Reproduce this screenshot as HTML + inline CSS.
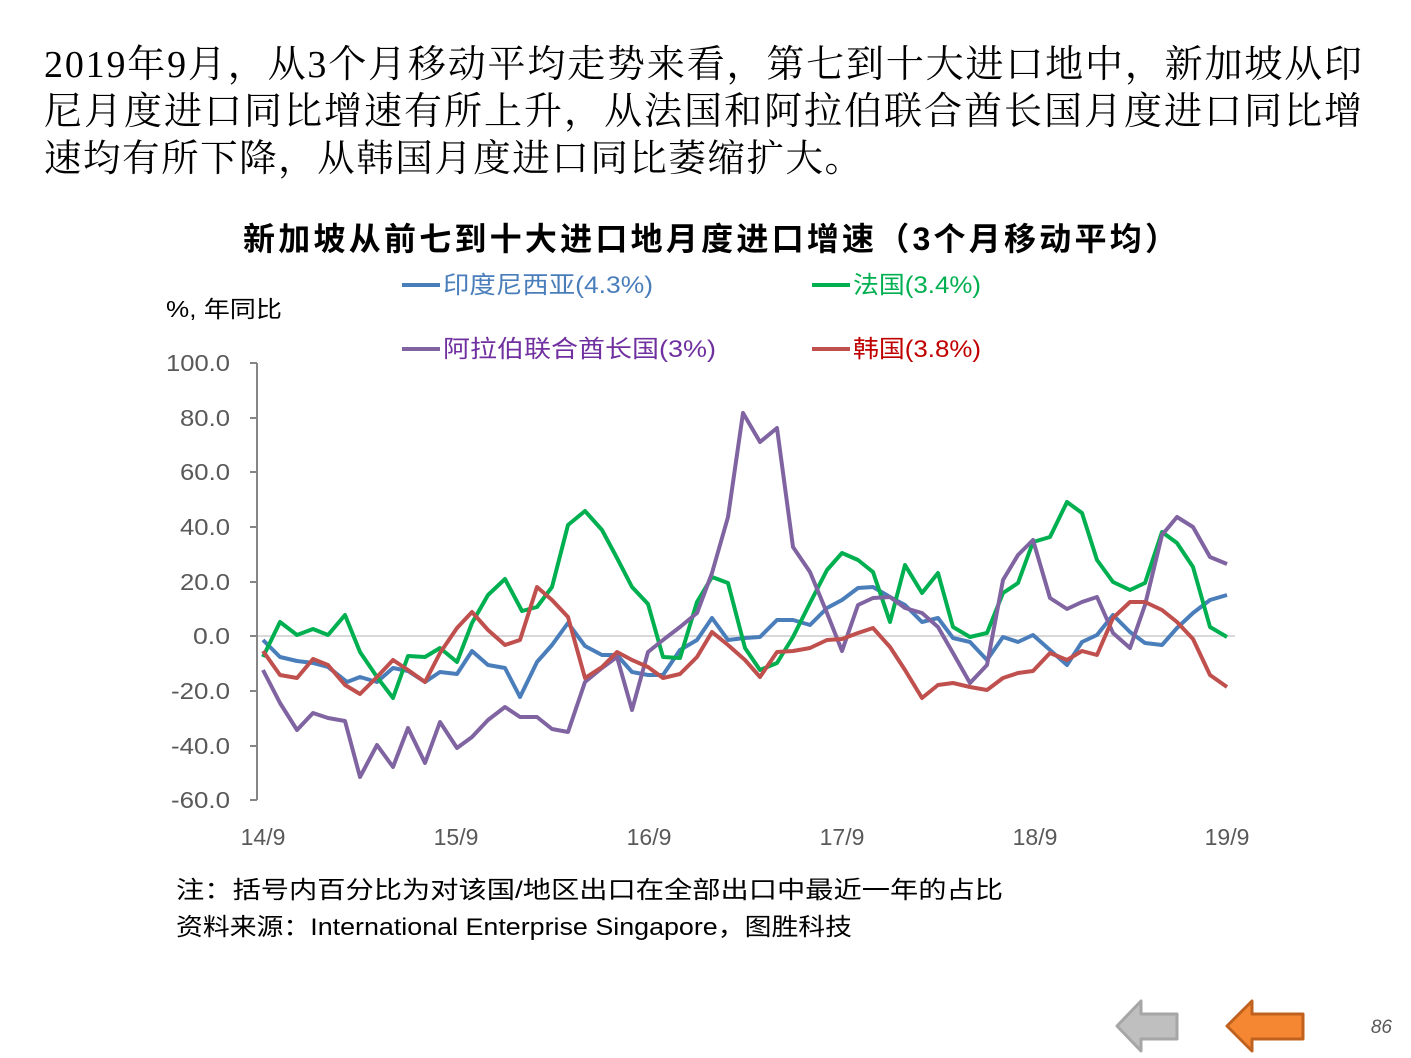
<!DOCTYPE html>
<html><head><meta charset="utf-8"><style>
body{margin:0;background:#fff;width:1411px;height:1058px;overflow:hidden}
svg{display:block}
.s{font-family:"Liberation Sans","Noto Sans CJK SC",sans-serif}
</style></head><body>
<svg width="1411" height="1058" xmlns="http://www.w3.org/2000/svg">
<g font-family="Liberation Serif,'Noto Serif CJK SC',serif" font-size="38" fill="#000">
<text x="44" y="77" textLength="1318" lengthAdjust="spacing">2019年9月，从3个月移动平均走势来看，第七到十大进口地中，新加坡从印</text>
<text x="44" y="124" textLength="1318" lengthAdjust="spacing">尼月度进口同比增速有所上升，从法国和阿拉伯联合酋长国月度进口同比增</text>
<text x="44" y="171" font-size="37.5" textLength="818" lengthAdjust="spacing">速均有所下降，从韩国月度进口同比萎缩扩大。</text>
</g>
<text class="s" x="710" y="250" text-anchor="middle" font-size="32" font-weight="bold" textLength="934" lengthAdjust="spacing">新加坡从前七到十大进口地月度进口增速（3个月移动平均）</text>
<g class="s" font-size="24">
<line x1="402" y1="285" x2="440" y2="285" stroke="#4a7ebb" stroke-width="4"/>
<text x="443" y="293" fill="#4a7ebb" textLength="210" lengthAdjust="spacingAndGlyphs">印度尼西亚(4.3%)</text>
<line x1="812" y1="285" x2="850" y2="285" stroke="#00b050" stroke-width="4"/>
<text x="853" y="293" fill="#00b050" textLength="128" lengthAdjust="spacingAndGlyphs">法国(3.4%)</text>
<line x1="402" y1="349" x2="440" y2="349" stroke="#8064a2" stroke-width="4"/>
<text x="443" y="357" fill="#7030a0" textLength="273" lengthAdjust="spacingAndGlyphs">阿拉伯联合酋长国(3%)</text>
<line x1="812" y1="349" x2="850" y2="349" stroke="#c0504d" stroke-width="4"/>
<text x="853" y="357" fill="#c00000" textLength="128" lengthAdjust="spacingAndGlyphs">韩国(3.8%)</text>
</g>
<text class="s" x="166" y="317" font-size="23" fill="#000" textLength="116" lengthAdjust="spacingAndGlyphs">%, 年同比</text>
<g class="s" font-size="23" fill="#595959" text-anchor="end">
<text x="230" y="371" textLength="64" lengthAdjust="spacingAndGlyphs">100.0</text><text x="230" y="426" textLength="50" lengthAdjust="spacingAndGlyphs">80.0</text><text x="230" y="480" textLength="50" lengthAdjust="spacingAndGlyphs">60.0</text>
<text x="230" y="535" textLength="50" lengthAdjust="spacingAndGlyphs">40.0</text><text x="230" y="590" textLength="50" lengthAdjust="spacingAndGlyphs">20.0</text><text x="230" y="644" textLength="37" lengthAdjust="spacingAndGlyphs">0.0</text>
<text x="230" y="699" textLength="59" lengthAdjust="spacingAndGlyphs">-20.0</text><text x="230" y="754" textLength="59" lengthAdjust="spacingAndGlyphs">-40.0</text><text x="230" y="808" textLength="59" lengthAdjust="spacingAndGlyphs">-60.0</text>
</g>
<g class="s" font-size="23" fill="#595959" text-anchor="middle">
<text x="263" y="845">14/9</text><text x="456" y="845">15/9</text><text x="649" y="845">16/9</text>
<text x="842" y="845">17/9</text><text x="1035" y="845">18/9</text><text x="1227" y="845">19/9</text>
</g>
<line x1="257" y1="636" x2="1235" y2="636" stroke="#d9d9d9" stroke-width="2"/>
<g stroke="#868686" stroke-width="2">
<line x1="257" y1="363" x2="257" y2="800"/>
<line x1="250" y1="363" x2="257" y2="363"/><line x1="250" y1="418" x2="257" y2="418"/>
<line x1="250" y1="472" x2="257" y2="472"/><line x1="250" y1="527" x2="257" y2="527"/>
<line x1="250" y1="582" x2="257" y2="582"/><line x1="250" y1="636" x2="257" y2="636"/>
<line x1="250" y1="691" x2="257" y2="691"/><line x1="250" y1="746" x2="257" y2="746"/>
<line x1="250" y1="800" x2="257" y2="800"/>
</g>
<g fill="none" stroke-width="4" stroke-linejoin="round">
<polyline stroke="#4a7ebb" points="263,640 280,657 297,661 313,663 328,667 347,682 360,677 377,682 393,668 408,671 425,682 440,672 457,674 472,651 488,665 505,668 520,697 537,662 552,645 568,623 585,646 602,655 617,655 632,672 648,675 663,675 680,650 697,640 712,618 728,640 745,638 760,637 777,620 793,620 810,625 827,608 842,600 858,588 873,587 890,597 905,605 922,622 938,618 953,638 970,642 987,660 1003,637 1018,642 1033,635 1050,650 1067,665 1082,642 1097,635 1113,615 1130,632 1145,643 1162,645 1177,628 1193,613 1210,600 1227,595"/>
<polyline stroke="#00b050" points="263,657 280,622 297,635 313,629 328,635 345,615 360,652 377,677 393,698 408,656 425,657 440,648 457,662 472,623 488,595 505,579 522,611 537,607 552,587 568,525 585,511 602,530 617,558 632,587 648,604 663,657 680,658 697,602 712,577 728,583 745,648 760,670 777,663 793,637 810,603 827,570 842,553 858,560 873,572 890,622 905,565 922,593 938,573 953,627 970,637 987,633 1003,593 1018,583 1033,542 1050,537 1067,502 1082,513 1097,560 1113,582 1130,590 1145,583 1162,532 1177,543 1193,567 1210,627 1227,637"/>
<polyline stroke="#8064a2" points="263,670 280,703 297,730 313,713 328,718 345,721 360,777 377,745 393,767 408,728 425,763 440,722 457,748 472,737 488,720 505,707 520,717 537,717 552,729 568,732 585,682 602,668 617,657 632,710 648,652 663,640 680,627 697,613 712,573 728,517 743,413 760,442 777,428 793,547 810,572 827,613 842,651 858,605 873,598 890,597 905,608 922,613 938,627 953,653 970,683 987,665 1003,580 1018,555 1033,540 1050,598 1067,609 1082,602 1097,597 1113,633 1130,648 1145,605 1162,535 1177,517 1193,527 1210,557 1227,564"/>
<polyline stroke="#c0504d" points="263,651 280,675 297,678 313,659 328,665 345,685 360,694 377,677 393,660 408,670 425,682 440,653 457,628 472,612 488,630 505,645 520,640 537,587 552,600 568,617 585,678 602,667 617,652 632,660 648,667 663,678 680,674 697,657 712,632 728,645 745,660 760,677 777,652 793,651 810,648 827,640 842,639 858,633 873,628 890,647 905,670 922,698 938,685 953,683 970,687 987,690 1003,678 1018,673 1033,671 1050,653 1067,660 1082,651 1097,655 1113,618 1130,602 1145,602 1162,610 1177,622 1193,639 1210,675 1227,687"/>
</g>
<g class="s" font-size="24" fill="#000">
<text x="176" y="898" textLength="827" lengthAdjust="spacingAndGlyphs">注：括号内百分比为对该国/地区出口在全部出口中最近一年的占比</text>
<text x="176" y="935" textLength="676" lengthAdjust="spacingAndGlyphs">资料来源：International  Enterprise  Singapore，图胜科技</text>
</g>
<polygon points="1117,1026 1141,1001 1141,1014 1177,1014 1177,1039 1141,1039 1141,1051" fill="#bfbfbf" stroke="#a6a6a6" stroke-width="3" stroke-linejoin="round"/>
<polygon points="1227,1026 1252,1001 1252,1014 1303,1014 1303,1039 1252,1039 1252,1051" fill="#f58733" stroke="#c0621f" stroke-width="3" stroke-linejoin="round"/>
<text class="s" x="1392" y="1033" font-size="19" font-style="italic" fill="#595959" text-anchor="end">86</text>
</svg>
</body></html>
